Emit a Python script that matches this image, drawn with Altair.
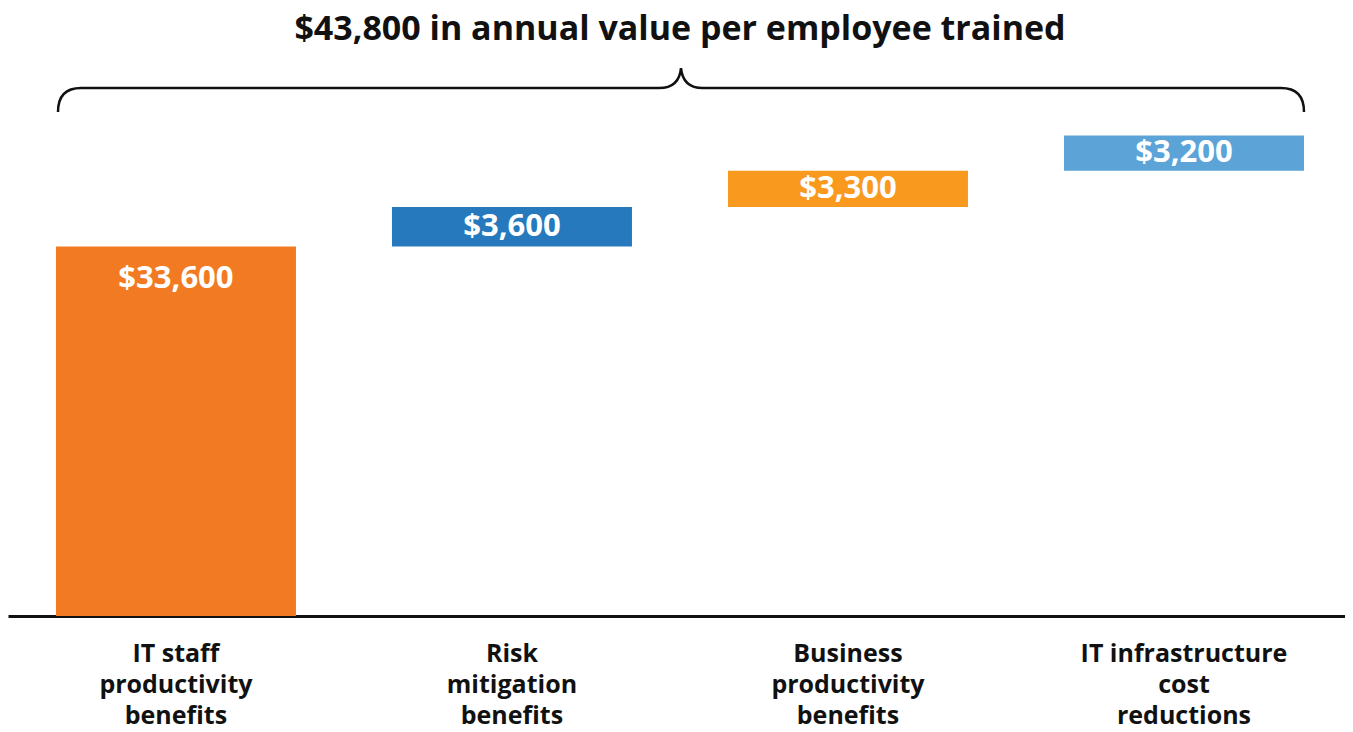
import altair as alt
import pandas as pd

# ---- data ----
categories = [
    "IT staff|productivity|benefits",
    "Risk|mitigation|benefits",
    "Business|productivity|benefits",
    "IT infrastructure|cost|reductions",
]
values = [33600, 3600, 3300, 3200]
value_labels = ["$33,600", "$3,600", "$3,300", "$3,200"]
colors = ["#F27A22", "#2679BD", "#F99A1E", "#5CA3D8"]
title_text = "$43,800 in annual value per employee trained"

ends = []
run = 0
for v in values:
    run += v
    ends.append(run)
starts = [e - v for e, v in zip(ends, values)]

df = pd.DataFrame({
    "cat": categories,
    "value": values,
    "start": starts,
    "end": ends,
    "mid": [(s + e) / 2 for s, e in zip(starts, ends)],
    "label": value_labels,
    "idx": list(range(len(categories))),
})

FONT = "Open Sans"
W, H = 1337, 608

x = alt.X(
    "cat:N",
    sort=categories,
    scale=alt.Scale(paddingInner=0.2857, paddingOuter=0.1324, align=0.539),
    axis=alt.Axis(
        title=None,
        labelAngle=0,
        labelExpr="split(datum.label, '|')",
        labelFont=FONT,
        labelFontSize=25,
        labelFontWeight="bold",
        labelColor="#111111",
        labelLineHeight=31,
        labelPadding=25,
        labelLimit=0,
        ticks=False,
        domainColor="#111111",
        domainWidth=3,
        grid=False,
    ),
)
yscale = alt.Scale(domain=[0, 55300])

base = alt.Chart(df)

bars = base.mark_bar().encode(
    x=x,
    y=alt.Y("start:Q", scale=yscale, axis=None),
    y2="end:Q",
    color=alt.Color("cat:N", scale=alt.Scale(domain=categories, range=colors), legend=None),
)

big_label = base.transform_filter("datum.idx == 0").mark_text(
    font=FONT, fontSize=31, fontWeight="bold", color="white", baseline="middle", dy=32
).encode(x=x, y=alt.Y("end:Q", scale=yscale), text="label:N")

small_labels = base.transform_filter("datum.idx > 0").mark_text(
    font=FONT, fontSize=31, fontWeight="bold", color="white", baseline="middle"
).encode(x=x, y=alt.Y("mid:Q", scale=yscale), text="label:N")

deco = pd.DataFrame({"t": [title_text]})

title = alt.Chart(deco).mark_text(
    font=FONT, fontSize=34, fontWeight="bold", color="#111111", baseline="middle"
).encode(x=alt.value(672), y=alt.value(22), text="t:N")

brace_path = (
    "M -1 0.0385 Q -1 0 -0.963 0 L -0.035 0 Q -0.003 0 0 -0.032 "
    "Q 0.003 0 0.035 0 L 0.963 0 Q 1 0 1 0.0385"
)
brace = alt.Chart(deco).mark_point(
    shape=brace_path, filled=False, stroke="#111111", strokeWidth=2.5,
    size=1246 * 1246, opacity=1,
).encode(x=alt.value(673), y=alt.value(80))

chart = alt.layer(bars, big_label, small_labels, title, brace).properties(
    width=W, height=H, padding=0
).configure_view(stroke=None)

chart.save("out.html", embed_options={"renderer": "svg", "actions": False})
